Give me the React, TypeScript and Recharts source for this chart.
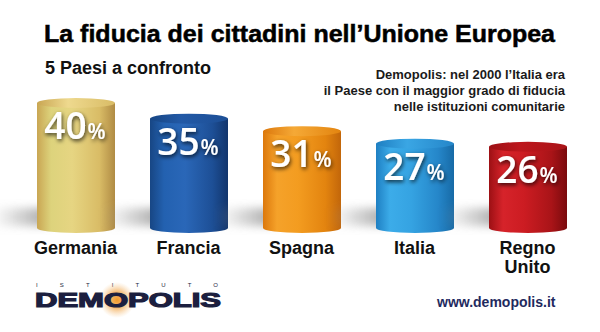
import { Bar, BarChart, LabelList, XAxis, YAxis } from "recharts";

const categories = ["Germania", "Francia", "Spagna", "Italia", "Regno Unito"];
const fiducia = [40, 35, 31, 27, 26];

const title = "La fiducia dei cittadini nell\u2019Unione Europea";
const subtitle = "5 Paesi a confronto";
const noteLines = [
	"Demopolis: nel 2000 l\u2019Italia era",
	"il Paese con il maggior grado di fiducia",
	"nelle istituzioni comunitarie",
];

// cylinder colours: left edge, light band, centre, right shade, right edge, top face
const palette = [
	["#c9a653", "#ddd37c", "#e6d582", "#d9bc66", "#b08b44", "#eed98e"],
	["#174684", "#2361b0", "#2a67b8", "#1d4f96", "#12356c", "#2259a6"],
	["#dc780c", "#f5a22a", "#f39c20", "#e3840f", "#c2660a", "#f5a936"],
	["#1e7fc2", "#3cace9", "#35a3e2", "#2586c9", "#176aa6", "#3aa6e4"],
	["#9c1014", "#d6232a", "#cc1c22", "#a91418", "#7a0a0d", "#bd171d"],
];

const chartData = categories.map((name, i) => ({ name, value: fiducia[i] }));

const RY = 5;

function Cylinder(props: any) {
	const { x, y, width, height, index } = props;
	const cx = x + width / 2;
	const bottom = y + height;
	return (
		<g>
			<rect
				x={x - 46}
				y={bottom - 20}
				width={56}
				height={18}
				fill="url(#shadow)"
				filter="url(#blur)"
			/>
			<rect x={x} y={y} width={width} height={height} fill={`url(#body${index})`} />
			<ellipse cx={cx} cy={bottom} rx={width / 2} ry={RY} fill={`url(#body${index})`} />
			<ellipse cx={cx} cy={y} rx={width / 2} ry={RY} fill={`url(#top${index})`} />
		</g>
	);
}

function ValueLabel(props: any) {
	const { x, y, width, value } = props;
	return (
		<text
			x={x + width / 2 - 1}
			y={y + 36}
			textAnchor="middle"
			fill="#ffffff"
			fontFamily="'Open Sans', sans-serif"
			fontWeight={600}
			filter="url(#textShadow)"
		>
			<tspan fontSize={37}>{value}</tspan>
			<tspan fontSize={21} dx={1}>%</tspan>
		</text>
	);
}

function CategoryTick(props: any) {
	const { x, y, payload } = props;
	const words = payload.value === "Regno Unito" ? ["Regno", "Unito"] : [payload.value];
	return (
		<g>
			{words.map((w, i) => (
				<text
					key={w}
					x={x}
					y={y + 26 + i * 19}
					textAnchor="middle"
					fill="#111111"
					fontFamily="'Liberation Sans', Arial, sans-serif"
					fontWeight={700}
					fontSize={18}
				>
					{w}
				</text>
			))}
		</g>
	);
}

export default function App() {
	return (
		<div
			style={{
				position: "absolute",
				left: 0,
				top: 0,
				width: 600,
				height: 332,
				background: "#ffffff",
				overflow: "hidden",
			}}
		>
			<BarChart
				width={600}
				height={332}
				data={chartData}
				margin={{ top: 103, right: 16, left: 19, bottom: 54 }}
				accessibilityLayer={false}
			>
				<defs>
					{palette.map((c, i) => (
						<linearGradient key={`b${i}`} id={`body${i}`} x1="0" y1="0" x2="1" y2="0">
							<stop offset="0%" stopColor={c[0]} />
							<stop offset="18%" stopColor={c[1]} />
							<stop offset="45%" stopColor={c[2]} />
							<stop offset="80%" stopColor={c[3]} />
							<stop offset="100%" stopColor={c[4]} />
						</linearGradient>
					))}
					{palette.map((c, i) => (
						<linearGradient key={`t${i}`} id={`top${i}`} x1="0" y1="0" x2="1" y2="0">
							<stop offset="0%" stopColor={c[0]} />
							<stop offset="40%" stopColor={c[5]} />
							<stop offset="100%" stopColor={c[3]} />
						</linearGradient>
					))}
					<linearGradient id="shadow" x1="0" y1="0" x2="1" y2="0">
						<stop offset="0%" stopColor="#9a9a9a" stopOpacity={0} />
						<stop offset="100%" stopColor="#8a8a8a" stopOpacity={0.75} />
					</linearGradient>
					<filter id="blur" x="-50%" y="-50%" width="200%" height="200%">
						<feGaussianBlur stdDeviation="4" />
					</filter>
					<filter id="textShadow" x="-30%" y="-30%" width="160%" height="160%">
						<feDropShadow dx="1" dy="2" stdDeviation="2" floodColor="#000000" floodOpacity="0.75" />
					</filter>
				</defs>
				<XAxis
					dataKey="name"
					axisLine={false}
					tickLine={false}
					tickSize={0}
					tickMargin={0}
					height={50}
					interval={0}
					tick={<CategoryTick />}
				/>
				<YAxis hide domain={[0, 40]} />
				<Bar dataKey="value" barSize={78} shape={<Cylinder />} isAnimationActive={false}>
					<LabelList dataKey="value" content={<ValueLabel />} />
				</Bar>
			</BarChart>

			<svg
				width={600}
				height={332}
				style={{ position: "absolute", left: 0, top: 0, pointerEvents: "none" }}
			>
				<defs>
					<radialGradient id="sun" cx="50%" cy="50%" r="50%">
						<stop offset="0%" stopColor="#f19a2a" stopOpacity={1} />
						<stop offset="45%" stopColor="#f2a548" stopOpacity={0.75} />
						<stop offset="100%" stopColor="#f6c98f" stopOpacity={0} />
					</radialGradient>
				</defs>
				<text
					x={44}
					y={42}
					fontFamily="'Liberation Sans', Arial, sans-serif"
					fontWeight={700}
					fontSize={24}
					fill="#000000"
					stroke="#000000"
					strokeWidth={0.5}
					textLength={511}
					lengthAdjust="spacingAndGlyphs"
				>
					{title}
				</text>
				<text
					x={45}
					y={74}
					fontFamily="'Liberation Sans', Arial, sans-serif"
					fontWeight={700}
					fontSize={18}
					fill="#111111"
				>
					{subtitle}
				</text>
				{noteLines.map((line, i) => (
					<text
						key={line}
						x={565}
						y={79 + i * 16}
						textAnchor="end"
						fontFamily="'Liberation Sans', Arial, sans-serif"
						fontWeight={700}
						fontSize={13}
						fill="#1a1a1a"
					>
						{line}
					</text>
				))}

				<text
					x={36}
					y={287}
					fontFamily="'Liberation Sans', Arial, sans-serif"
					fontSize={6}
					fill="#1c1f3f"
					textLength={182}
					lengthAdjust="spacing"
				>
					ISTITUTO
				</text>
				<circle cx={117} cy={300} r={18} fill="url(#sun)" />
				<text
					x={35}
					y={307}
					fontFamily="'Liberation Sans', Arial, sans-serif"
					fontWeight={700}
					fontSize={19.5}
					fill="#1c1f3f"
					stroke="#1c1f3f"
					strokeWidth={1.2}
					textLength={186}
					lengthAdjust="spacingAndGlyphs"
				>
					DEMOPOLIS
				</text>
				<text
					x={437}
					y={307}
					fontFamily="'Liberation Sans', Arial, sans-serif"
					fontWeight={700}
					fontSize={14}
					fill="#1f2a5e"
				>
					www.demopolis.it
				</text>
			</svg>
		</div>
	);
}
